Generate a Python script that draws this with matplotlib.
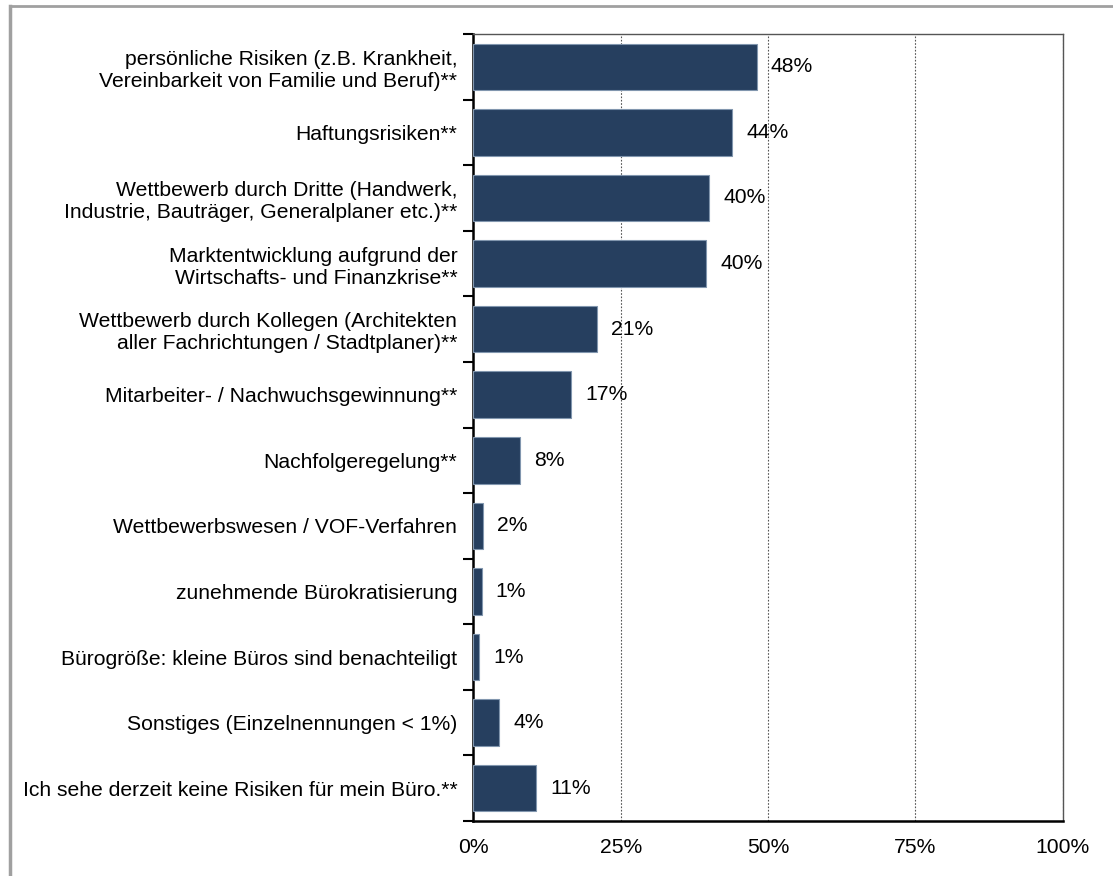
import matplotlib
matplotlib.use("Agg")
import matplotlib.pyplot as plt
from matplotlib.lines import Line2D

categories = [
    "persönliche Risiken (z.B. Krankheit,\nVereinbarkeit von Familie und Beruf)**",
    "Haftungsrisiken**",
    "Wettbewerb durch Dritte (Handwerk,\nIndustrie, Bauträger, Generalplaner etc.)**",
    "Marktentwicklung aufgrund der\nWirtschafts- und Finanzkrise**",
    "Wettbewerb durch Kollegen (Architekten\naller Fachrichtungen / Stadtplaner)**",
    "Mitarbeiter- / Nachwuchsgewinnung**",
    "Nachfolgeregelung**",
    "Wettbewerbswesen / VOF-Verfahren",
    "zunehmende Bürokratisierung",
    "Bürogröße: kleine Büros sind benachteiligt",
    "Sonstiges (Einzelnennungen < 1%)",
    "Ich sehe derzeit keine Risiken für mein Büro.**",
]
values = [48.1, 43.9, 40.0, 39.5, 21.0, 16.6, 7.9, 1.6, 1.4, 1.0, 4.4, 10.7]
labels = ["48%", "44%", "40%", "40%", "21%", "17%", "8%", "2%", "1%", "1%", "4%", "11%"]
xticks = [0, 25, 50, 75, 100]

plt.rcParams['font.family'] = ['Liberation Sans', 'DejaVu Sans']
fs = 15.2

W, H = 1113, 876
fig = plt.figure(figsize=(W / 100, H / 100), dpi=100)
ax = fig.add_axes([473.3 / W, 1 - 821 / H, (1062.7 - 473.3) / W, (821 - 34) / H])

y = list(range(len(categories)))
ax.barh(y, values, height=0.71, color="#263f5f", edgecolor="#8196ae", linewidth=0.8, zorder=3)
for yi, v, lab in zip(y, values, labels):
    ax.text(v + 2.4, yi, lab, va="center", ha="left", fontsize=fs, color="black", zorder=4)

ax.set_xlim(0, 100)
ax.set_ylim(len(categories) - 0.5, -0.5)
ax.set_xticks(xticks)
ax.set_xticklabels([f"{t}%" for t in xticks], fontsize=fs)
ax.set_yticks(y)
ax.set_yticklabels(categories, fontsize=fs, linespacing=1.2)
ax.set_yticks([i - 0.5 for i in range(len(categories) + 1)], minor=True)
ax.tick_params(axis="y", which="major", length=0, pad=11.5)
ax.tick_params(axis="y", which="minor", length=7, width=1.5, direction="out")
ax.tick_params(axis="x", length=0, pad=12)

ax.grid(axis="x", color="#555555", linestyle=(0, (1.5, 1.5)), linewidth=0.8, zorder=0)
for s in ["top", "right"]:
    ax.spines[s].set_color("#555555")
    ax.spines[s].set_linewidth(1.0)
for s in ["left", "bottom"]:
    ax.spines[s].set_color("black")
    ax.spines[s].set_linewidth(1.8)

# outer chart frame, only top and left edges fall inside the picture
fig.add_artist(Line2D([10 / W, 1], [1 - 6 / H, 1 - 6 / H], transform=fig.transFigure,
                      color="#a0a0a0", linewidth=2.0))
fig.add_artist(Line2D([10 / W, 10 / W], [0, 1 - 6 / H], transform=fig.transFigure,
                      color="#a0a0a0", linewidth=2.5))

fig.savefig("out.png", dpi=100)
